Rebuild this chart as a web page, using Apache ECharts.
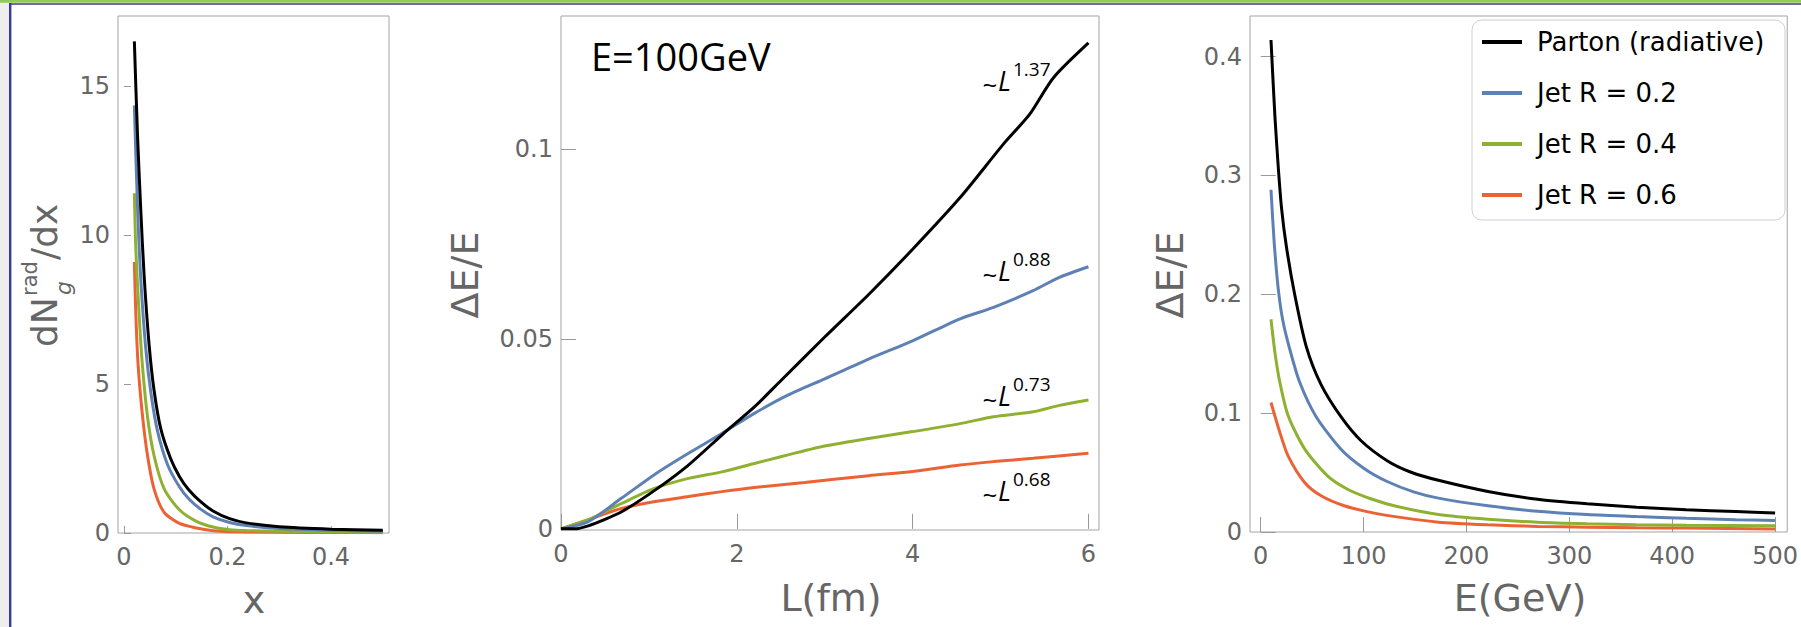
<!DOCTYPE html>
<html>
<head>
<meta charset="utf-8">
<script src="https://cdn.jsdelivr.net/npm/echarts@6/dist/echarts.min.js"></script>
<style>
html, body { margin: 0; padding: 0; background: #fff; }
#chart { width: 1801px; height: 627px; }
</style>
</head>
<body>
<div id="chart"></div>
<script>
// curve names, shared by all three panels
const seriesNames = ['Parton (radiative)', 'Jet R = 0.2', 'Jet R = 0.4', 'Jet R = 0.6'];

// panel 1: dN/dx vs x
const specParton = [[0.02, 16.5], [0.026, 13.4], [0.0325, 10.8], [0.039, 8.6], [0.0486, 6.3], [0.058, 4.8], [0.071, 3.5], [0.09, 2.5], [0.107, 1.9], [0.125, 1.45], [0.148, 1.05], [0.172, 0.74], [0.204, 0.48], [0.236, 0.34], [0.3, 0.21], [0.4, 0.13], [0.5, 0.09]];
const specR02 = [[0.02, 14.35], [0.026, 11.0], [0.0325, 8.5], [0.042, 6.2], [0.052, 4.7], [0.065, 3.4], [0.084, 2.3], [0.107, 1.55], [0.125, 1.15], [0.148, 0.8], [0.172, 0.54], [0.204, 0.35], [0.236, 0.25], [0.3, 0.15], [0.4, 0.09], [0.5, 0.056]];
const specR04 = [[0.02, 11.4], [0.0229, 9.5], [0.0293, 7.3], [0.0357, 5.6], [0.0454, 3.9], [0.058, 2.6], [0.0776, 1.48], [0.107, 0.78], [0.14, 0.39], [0.172, 0.2], [0.204, 0.11], [0.236, 0.08], [0.3, 0.056], [0.4, 0.04], [0.5, 0.034]];
const specR06 = [[0.02, 9.1], [0.0229, 7.3], [0.0274, 5.6], [0.0357, 3.94], [0.0454, 2.6], [0.058, 1.48], [0.0776, 0.69], [0.107, 0.32], [0.14, 0.167], [0.172, 0.078], [0.204, 0.045], [0.3, 0.022], [0.4, 0.015], [0.5, 0.011]];

// panel 2: dE/E vs L at E = 100 GeV
const pathParton = [[0, 0], [0.16, 0], [0.31, 0.0008], [0.5, 0.0025], [0.69, 0.0045], [1.07, 0.0102], [1.45, 0.0168], [1.83, 0.0247], [2.2, 0.0321], [2.5, 0.039], [3, 0.0505], [3.5, 0.0617], [4, 0.0736], [4.54, 0.0872], [5.03, 0.1012], [5.33, 0.1091], [5.6, 0.1187], [6, 0.1279]];
const pathR02 = [[0, 0], [0.31, 0.0019], [0.69, 0.0081], [1.07, 0.0144], [1.45, 0.0199], [1.83, 0.0251], [2.2, 0.0304], [2.58, 0.0352], [3, 0.0395], [3.5, 0.0447], [4, 0.0495], [4.54, 0.0553], [4.92, 0.0583], [5.37, 0.0627], [5.67, 0.0662], [6, 0.069]];
const pathR04 = [[0, 0], [0.31, 0.0024], [0.69, 0.0067], [1.07, 0.0107], [1.45, 0.0133], [1.83, 0.015], [2.2, 0.0172], [2.5, 0.019], [3, 0.0218], [3.5, 0.0238], [4, 0.0256], [4.54, 0.0277], [4.92, 0.0295], [5.37, 0.0308], [5.67, 0.0325], [6, 0.0339]];
const pathR06 = [[0, 0], [0.31, 0.0024], [0.69, 0.0054], [1.07, 0.0072], [1.45, 0.0085], [1.83, 0.0098], [2.2, 0.0109], [2.77, 0.0122], [3.5, 0.014], [4, 0.0151], [4.54, 0.0168], [4.92, 0.0177], [5.37, 0.0186], [6, 0.0199]];

// panel 3: dE/E vs E
const energyParton = [[10, 0.414], [13.8, 0.35], [17, 0.308], [20.2, 0.273], [25, 0.24], [33, 0.2], [44.3, 0.156], [58.7, 0.124], [78, 0.097], [97.3, 0.077], [122.9, 0.06], [145.5, 0.0505], [172.7, 0.0435], [220.9, 0.0341], [269.1, 0.0275], [317.2, 0.0237], [365.4, 0.0209], [413.5, 0.0187], [461.7, 0.0173], [500, 0.0159]];
const energyR02 = [[10, 0.288], [13, 0.245], [17, 0.205], [21.5, 0.178], [28.2, 0.154], [37.9, 0.126], [53.9, 0.097], [78, 0.0697], [100.5, 0.0535], [122.9, 0.0425], [148.6, 0.0338], [172.7, 0.0285], [220.9, 0.022], [269.1, 0.0175], [317.2, 0.0147], [365.4, 0.013], [413.5, 0.0116], [461.7, 0.0104], [500, 0.0097]];
const energyR04 = [[10, 0.179], [14, 0.15], [18.6, 0.126], [26.6, 0.098], [42.7, 0.07], [65.2, 0.047], [84.4, 0.036], [106.9, 0.028], [132.6, 0.0215], [172.7, 0.0148], [220.9, 0.0108], [269.1, 0.0082], [317.2, 0.0069], [365.4, 0.0061], [413.5, 0.0056], [500, 0.0052]];
const energyR06 = [[10, 0.109], [18.6, 0.0838], [26.6, 0.0641], [42.7, 0.0417], [58.7, 0.0305], [81.2, 0.0221], [106.9, 0.0165], [135.8, 0.0123], [172.7, 0.0083], [220.9, 0.0061], [269.1, 0.0047], [317.2, 0.0041], [365.4, 0.0036], [413.5, 0.0033], [500, 0.0025]];

// tick labels
const specTicksX = [0, 0.2, 0.4];
const specTicksY = [0, 5, 10, 15];
const pathTicksX = [0, 2, 4, 6];
const pathTicksY = [0, 0.05, 0.1];
const energyTicksX = [0, 100, 200, 300, 400, 500];
const energyTicksY = [0, 0.1, 0.2, 0.3, 0.4];

// fitted power laws written next to the L curves
const powerExponents = ['1.37', '0.88', '0.73', '0.68'];

const lineColors = ['#000000', '#5e81b5', '#8fb131', '#eb6235'];
const tickFont = 'DejaVu Sans';
const grey = '#666';

const chart = echarts.init(document.getElementById('chart'), null, { renderer: 'svg' });

const panels = [
    { sets: [specParton, specR02, specR04, specR06], xr: [-0.0116, 0.512], yr: [0, 17.35], xt: specTicksX, yt: specTicksY, tick: 7,
      grid: { left: 118, top: 16, width: 271, height: 517 } },
    { sets: [pathParton, pathR02, pathR04, pathR06], xr: [0, 6.12], yr: [-0.0003, 0.135], xt: pathTicksX, yt: pathTicksY, tick: 15,
      grid: { left: 561, top: 16, width: 538, height: 514 } },
    { sets: [energyParton, energyR02, energyR04, energyR06], xr: [-10.4, 511.8], yr: [0, 0.4342], xt: energyTicksX, yt: energyTicksY, tick: 15,
      grid: { left: 1250, top: 16, width: 542, height: 516 } }
];

const axisCommon = (ticks, len, margin) => ({
    type: 'value',
    axisLine: { show: false },
    splitLine: { show: false },
    axisTick: { show: true, inside: true, length: len, customValues: ticks, lineStyle: { color: '#999', width: 1 } },
    axisLabel: { customValues: ticks, margin: margin, color: grey, fontFamily: tickFont, fontSize: 24, formatter: v => String(v) }
});

const grids = panels.map(p => Object.assign({ show: true, borderColor: '#a3a3a3', borderWidth: 1, backgroundColor: 'transparent' }, p.grid));
const xAxes = panels.map((p, i) => Object.assign(axisCommon(p.xt, p.tick, 12), { gridIndex: i, min: p.xr[0], max: p.xr[1] }));
const yAxes = panels.map((p, i) => Object.assign(axisCommon(p.yt, p.tick, 8), { gridIndex: i, min: p.yr[0], max: p.yr[1] }));

const series = [];
panels.forEach((p, i) => {
    p.sets.forEach((d, k) => {
        series.push({
            type: 'line',
            name: seriesNames[k],
            xAxisIndex: i,
            yAxisIndex: i,
            data: d,
            symbol: 'none',
            smooth: 0.25,
            z: 10 - k,
            itemStyle: { color: lineColors[k] },
            lineStyle: { color: lineColors[k], width: 3 }
        });
    });
});

const txt = (text, x, y, o) => ({
    type: 'text', x: x, y: y, rotation: o.rot || 0, z: 20, silent: true,
    style: Object.assign({ text: text, fill: grey, fontFamily: tickFont, fontSize: 38, align: 'center', verticalAlign: 'middle' }, o.style || {})
});

// ~L^p labels
const powerBase = [90, 280, 405, 500];
const powerText = [];
powerExponents.forEach((p, i) => {
    const b = powerBase[i];
    powerText.push(txt('~', 990, b - 6, { style: { fill: '#000', fontFamily: 'Open Sans', fontSize: 26 } }));
    powerText.push(txt('L', 998, b - 10, { style: { fill: '#000', fontFamily: 'Open Sans', fontSize: 27, fontStyle: 'italic', align: 'left' } }));
    powerText.push(txt(p, 1013, b - 21, { style: { fill: '#000', fontFamily: 'Open Sans', fontSize: 19, align: 'left' } }));
});

// dN_g^rad/dx, drawn as a rotated group
const specYName = {
    type: 'group', x: 57, y: 347, rotation: Math.PI / 2, silent: true, z: 20,
    children: [
        { type: 'text', x: 0, y: -13, style: { text: 'dN', fill: grey, fontFamily: tickFont, fontSize: 36, align: 'left', verticalAlign: 'middle' } },
        { type: 'text', x: 51, y: -27, style: { text: 'rad', fill: grey, fontFamily: tickFont, fontSize: 21, align: 'left', verticalAlign: 'middle' } },
        { type: 'text', x: 52, y: 6, style: { text: 'g', fill: grey, fontFamily: tickFont, fontSize: 22, fontStyle: 'italic', align: 'left', verticalAlign: 'middle' } },
        { type: 'text', x: 87, y: -13, style: { text: '/dx', fill: grey, fontFamily: tickFont, fontSize: 36, align: 'left', verticalAlign: 'middle' } }
    ]
};

const graphic = [
    // slide border
    { type: 'rect', shape: { x: 0, y: 0, width: 9, height: 627 }, style: { fill: '#eeeeee' }, silent: true },
    { type: 'rect', shape: { x: 9, y: 3, width: 2.4, height: 624 }, style: { fill: '#3a3a9c' }, silent: true },
    { type: 'rect', shape: { x: 0, y: 0, width: 1801, height: 2.7 }, style: { fill: '#93c95b' }, silent: true },
    { type: 'rect', shape: { x: 9, y: 3.2, width: 1792, height: 1.6 }, style: { fill: '#3a3a9c' }, silent: true },
    // legend box
    { type: 'rect', z: 1, shape: { x: 1472, y: 20, width: 313, height: 200, r: 10 }, style: { fill: '#fff', stroke: '#cfcfcf', lineWidth: 1 }, silent: true },
    // axis titles
    txt('x', 254, 600, {}),
    txt('L(fm)', 831, 598, {}),
    txt('E(GeV)', 1520, 598, {}),
    txt('\u0394E/E', 465, 275, { rot: Math.PI / 2 }),
    txt('\u0394E/E', 1170, 275, { rot: Math.PI / 2 }),
    specYName,
    txt('E=100GeV', 591, 56, { style: { fill: '#000', fontFamily: 'Open Sans', fontSize: 38, align: 'left' } })
].concat(powerText);

chart.setOption({
    animation: false,
    backgroundColor: '#fff',
    grid: grids,
    xAxis: xAxes,
    yAxis: yAxes,
    legend: {
        data: seriesNames,
        orient: 'vertical',
        left: 1482,
        top: 27,
        padding: 0,
        z: 10,
        icon: 'rect',
        itemWidth: 40,
        itemHeight: 4,
        itemGap: 21,
        selectedMode: false,
        textStyle: { color: '#000', fontFamily: tickFont, fontSize: 26, lineHeight: 30, padding: [0, 0, 0, 10] }
    },
    series: series,
    graphic: graphic
});
</script>
</body>
</html>
